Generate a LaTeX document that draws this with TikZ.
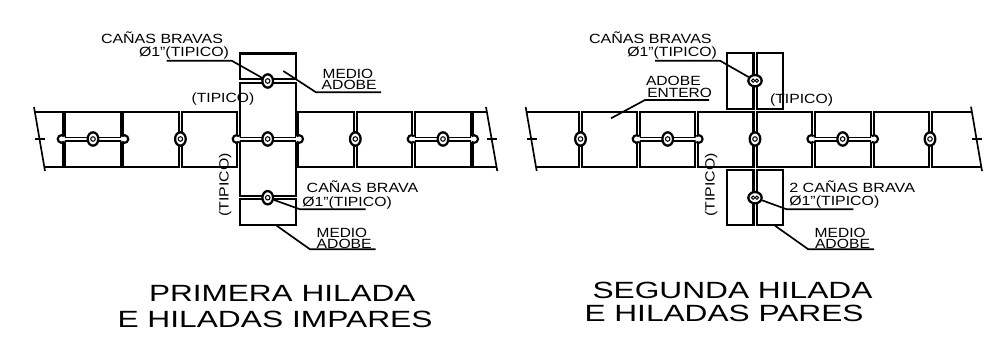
\documentclass[tikz,border=0pt]{standalone}
\usepackage{graphicx}
\usepackage{fontspec}
\setmainfont{Liberation Sans}
\usetikzlibrary{shapes.geometric}
\tikzset{
  wall/.style={line width=1.6pt,line join=miter},
  lead/.style={line width=1.25pt},
  txt/.style={inner sep=0pt,outer sep=0pt,anchor=base west,text=black},
  cane/.style={ellipse,draw,fill=white,line width=1.7pt,inner sep=0pt,minimum width=8pt,minimum height=10pt},
  canew/.style={ellipse,draw,fill=white,line width=1.7pt,inner sep=0pt,minimum width=10pt,minimum height=8.5pt},
  core/.style={circle,draw,fill=white,line width=.8pt,inner sep=0pt,minimum size=3.4pt},
  corelet/.style={circle,draw,fill=white,line width=.7pt,inner sep=0pt,minimum size=2.6pt},
}
% rectangle block
\newcommand{\blk}[4]{\draw[wall] (#1,#3) rectangle (#2,#4);}
% small text: name, x0, width, baseline, text
\newcommand{\lbl}[5]{\node[txt] (#1) at (#2,#4) {\resizebox{\dimexpr #3pt*3/4\relax}{\height}{\fontsize{10pt}{11pt}\selectfont #5}};}
\newcommand{\vlbl}[5]{\node[txt,rotate=90] (#1) at (#2,#4) {\resizebox{\dimexpr #3pt*3/4\relax}{\height}{\fontsize{10pt}{11pt}\selectfont #5}};}
\newcommand{\ttl}[5]{\node[txt] (#1) at (#2,#4) {\resizebox{\dimexpr #3pt*3/4\relax}{\height}{\fontsize{17.6pt}{19pt}\selectfont #5}};}
% notches
\newcommand{\notchL}[1]{\fill[white] (#1,139) circle (3.8); \draw[wall] (#1,139) ++(50:3.8) arc (50:310:3.8);}
\newcommand{\notchR}[1]{\fill[white] (#1,139) circle (3.8); \draw[wall] (#1,139) ++(-130:3.8) arc (-130:130:3.8);}
% split line pair
\newcommand{\split}[2]{\fill[white] (#1,137.4) rectangle (#2,140.9); \draw[line width=1.25pt] (#1,137.4) -- (#2,137.4) (#1,140.9) -- (#2,140.9);}
% cane with one core
\newcommand{\cana}[3]{\node[cane] (#1) at (#2,#3) {}; \node[core] (#1c) at (#2,#3) {};}
% cane holding two
\newcommand{\canas}[3]{\node[canew] (#1) at (#2,#3) {}; \node[corelet,xshift=-1.4pt] (#1a) at (#2,#3) {}; \node[corelet,xshift=1.4pt] (#1b) at (#2,#3) {};}
\begin{document}
\begin{tikzpicture}[x=.75pt,y=-.75pt]
\useasboundingbox (0,0) rectangle (986,339);
%% ---------- left: wall ----------
\draw[wall] (35,111.7) -- (62.7,111.7) -- (62.7,167.2) -- (44.6,167.2);
\coordinate (bl1) at (34,107); \coordinate (bl2) at (45,171);
\draw[lead] (bl1) -- (bl2);
\draw[wall] (35,139) -- (45,139);
\blk{65}{120.7}{111.7}{167.2}
\blk{123}{179}{111.7}{167.2}
\blk{181.7}{237}{111.7}{167.2}
\blk{298.3}{354}{111.7}{167.2}
\blk{356.7}{412}{111.7}{167.2}
\blk{415}{470.7}{111.7}{167.2}
\draw[wall] (487,111.7) -- (473.3,111.7) -- (473.3,167.2) -- (496,167.2);
\coordinate (br1) at (486,107); \coordinate (br2) at (497.3,171);
\draw[lead] (br1) -- (br2);
\draw[wall] (487,139) -- (497,139);
%% column
\blk{240}{295.7}{53.5}{79.3}
\blk{240}{295.7}{82.7}{196}
\blk{240}{295.7}{199.3}{225.3}
\notchL{61.5} \notchR{124.5} \notchL{236.5} \notchR{299.2} \notchL{411.5} \notchR{474.2}
\split{65}{120.7} \split{240}{295.7} \split{415}{470.7}
\cana{a1}{93}{139}
\cana{a2}{180.4}{139}
\cana{a3}{267.7}{81}
\cana{a4}{267.7}{139}
\cana{a5}{267.7}{197.7}
\cana{a6}{355.3}{139}
\cana{a7}{443}{139}
%% ---------- right: wall ----------
\draw[wall] (527,111.7) -- (578.7,111.7) -- (578.7,167.2) -- (537,167.2);
\coordinate (cl1) at (525.7,107); \coordinate (cl2) at (536.7,171);
\draw[lead] (cl1) -- (cl2);
\draw[wall] (527,139) -- (537.3,139);
\blk{581.7}{637.3}{111.7}{167.2}
\blk{640}{695.3}{111.7}{167.2}
\blk{698.3}{753.5}{111.7}{167.2}
\blk{756.7}{812}{111.7}{167.2}
\blk{814.7}{870.7}{111.7}{167.2}
\blk{873.7}{928.7}{111.7}{167.2}
\draw[wall] (972,111.7) -- (931.7,111.7) -- (931.7,167.2) -- (981,167.2);
\coordinate (cr1) at (971,106.7); \coordinate (cr2) at (982,171);
\draw[lead] (cr1) -- (cr2);
\draw[wall] (972,139) -- (982,139);
%% halves
\blk{727.3}{753.5}{53.3}{109}
\blk{756.7}{783}{53.3}{109}
\blk{727.3}{753.5}{170.3}{225.3}
\blk{756.7}{783}{170.3}{225.3}
\notchL{636.5} \notchR{698.8} \notchL{811.2} \notchR{874.2}
\split{640}{695.3} \split{814.7}{870.7}
\cana{b1}{580.5}{139}
\cana{b2}{667.7}{139}
\cana{b3}{755}{139}
\cana{b4}{842.7}{139}
\cana{b5}{930}{139}
\canas{b6}{755}{80.7}
\canas{b7}{755}{197.7}
%% ---------- texts ----------
\lbl{t1}{101}{122}{43.3}{CAÑAS BRAVAS}
\lbl{t2}{139}{90}{56.7}{Ø1"(TIPICO)}
\lbl{t3}{191.7}{62.5}{102.7}{(TIPICO)}
\vlbl{t4}{228.5}{63.5}{216.7}{(TIPICO)}
\lbl{t5}{322.7}{50.5}{78}{MEDIO}
\lbl{t6}{321.7}{55}{89.3}{ADOBE}
\lbl{t7}{306.7}{111.5}{192.3}{CAÑAS BRAVA}
\lbl{t8}{302.3}{89.5}{206}{Ø1"(TIPICO)}
\lbl{t9}{316.7}{50.5}{237.3}{MEDIO}
\lbl{t10}{316.7}{55}{248.7}{ADOBE}
\lbl{u1}{589}{122.7}{43.3}{CAÑAS BRAVAS}
\lbl{u2}{627.3}{89.5}{56.7}{Ø1"(TIPICO)}
\lbl{u3}{646}{54.7}{85.7}{ADOBE}
\lbl{u4}{647.3}{64.5}{97.3}{ENTERO}
\lbl{u5}{770}{63}{103.3}{(TIPICO)}
\vlbl{u6}{714.5}{63.5}{216.7}{(TIPICO)}
\lbl{u7}{789.3}{125.7}{192.3}{2 CAÑAS BRAVA}
\lbl{u8}{789.3}{90}{205.7}{Ø1"(TIPICO)}
\lbl{u9}{814.7}{51}{237.7}{MEDIO}
\lbl{u10}{815}{55}{248.3}{ADOBE}
\ttl{h1}{149}{266.5}{301}{PRIMERA HILADA}
\ttl{h2}{117.5}{315}{327.3}{E HILADAS IMPARES}
\ttl{h3}{592.5}{280}{298}{SEGUNDA HILADA}
\ttl{h4}{584.5}{279}{321.7}{E HILADAS PARES}
%% ---------- leaders ----------
\coordinate (l1) at (166.7,60.7); \coordinate (l1b) at (231.7,60.7);
\draw[lead] (l1) -- (l1b) -- (a3);
\coordinate (l2) at (283.3,71); \coordinate (l2b) at (316,92.3); \coordinate (l2c) at (381,92.3);
\draw[lead] (l2) -- (l2b) -- (l2c);
\coordinate (l3) at (300,209.3); \coordinate (l3b) at (365.7,209.3);
\draw[lead] (a5) -- (l3) -- (l3b);
\coordinate (l4) at (276.7,225.7); \coordinate (l4b) at (310,249.3); \coordinate (l4c) at (375.7,249.3);
\draw[lead] (l4) -- (l4b) -- (l4c);
\coordinate (m1) at (655,60.7); \coordinate (m1b) at (720,60.7);
\draw[lead] (m1) -- (m1b) -- (b6);
\coordinate (m2) at (611,118.3); \coordinate (m2b) at (645,100); \coordinate (m2c) at (709,100);
\draw[lead] (m2) -- (m2b) -- (m2c);
\coordinate (m3) at (786.7,209.3); \coordinate (m3b) at (853.3,209.3);
\draw[lead] (b7) -- (m3) -- (m3b);
\coordinate (m4) at (775,225.7); \coordinate (m4b) at (808.3,249.3); \coordinate (m4c) at (874,249.3);
\draw[lead] (m4) -- (m4b) -- (m4c);
\end{tikzpicture}
\end{document}
